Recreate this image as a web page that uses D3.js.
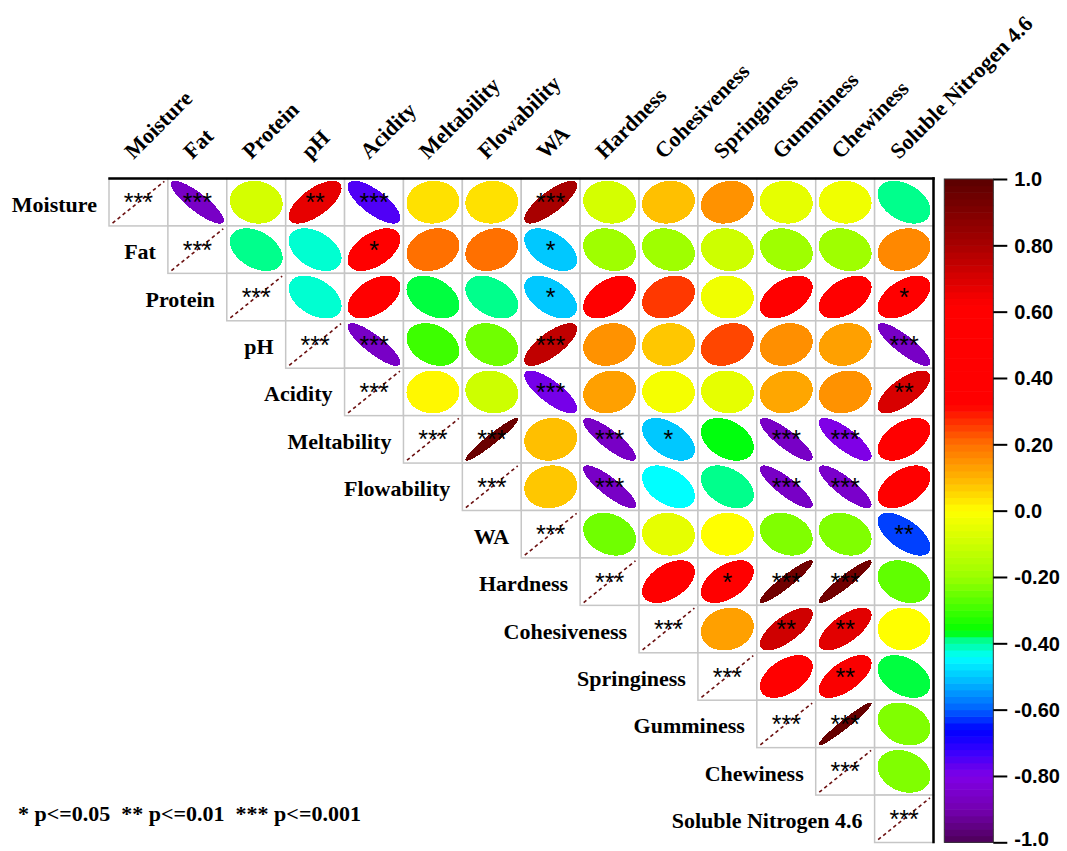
<!DOCTYPE html>
<html>
<head>
<meta charset="utf-8">
<script src="https://cdn.jsdelivr.net/npm/d3@7"></script>
<style>
  html, body { margin: 0; padding: 0; background: #fff; }
  svg { display: block; }
</style>
</head>
<body>
<svg id="chart" width="1067" height="851"></svg>
<script>
// Variables, in matrix order
const variables = ["Moisture", "Fat", "Protein", "pH", "Acidity", "Meltability", "Flowability",
  "WA", "Hardness", "Cohesiveness", "Springiness", "Gumminess", "Chewiness", "Soluble Nitrogen 4.6"];

// Pearson r, upper triangle: each row starts at its own diagonal
const rMoisture     = [1, -0.86, -0.085, 0.67, -0.75, 0.04, 0.04, 0.8, -0.085, 0.084, 0.15, -0.05, -0.03, -0.39];
const rFat          = [1, -0.39, -0.42, 0.5, 0.2, 0.2, -0.5, -0.19, -0.19, -0.1, -0.19, -0.19, 0.165];
const rProtein      = [1, -0.42, 0.48, -0.375, -0.39, -0.5, 0.47, 0.26, -0.03, 0.47, 0.47, 0.5];
const rPH           = [1, -0.86, -0.3, -0.245, 0.75, 0.15, 0.075, 0.245, 0.155, 0.13, -0.86];
const rAcidity      = [1, 0.01, -0.1, -0.79, 0.13, -0.02, -0.05, 0.12, 0.15, 0.7];
const rMeltability  = [1, 0.96, 0.085, -0.86, -0.5, -0.367, -0.86, -0.8, 0.47];
const rFlowability  = [1, 0.075, -0.86, -0.44, -0.39, -0.86, -0.85, 0.47];
const rWA           = [1, -0.245, -0.05, 0.0, -0.228, -0.228, -0.62];
const rHardness     = [1, 0.47, 0.5, 0.94, 0.94, -0.262];
const rCohesiveness = [1, 0.13, 0.72, 0.68, 0.0];
const rSpringiness  = [1, 0.48, 0.63, -0.375];
const rGumminess    = [1, 0.97, -0.228];
const rChewiness    = [1, -0.228];
const rSolubleN     = [1];

// Significance level (number of stars), same layout as above
const sMoisture     = [3, 3, 0, 2, 3, 0, 0, 3, 0, 0, 0, 0, 0, 0];
const sFat          = [3, 0, 0, 1, 0, 0, 1, 0, 0, 0, 0, 0, 0];
const sProtein      = [3, 0, 0, 0, 0, 1, 0, 0, 0, 0, 0, 1];
const sPH           = [3, 3, 0, 0, 3, 0, 0, 0, 0, 0, 3];
const sAcidity      = [3, 0, 0, 3, 0, 0, 0, 0, 0, 2];
const sMeltability  = [3, 3, 0, 3, 1, 0, 3, 3, 0];
const sFlowability  = [3, 0, 3, 0, 0, 3, 3, 0];
const sWA           = [3, 0, 0, 0, 0, 0, 2];
const sHardness     = [3, 0, 1, 3, 3, 0];
const sCohesiveness = [3, 0, 2, 2, 0];
const sSpringiness  = [3, 0, 2, 0];
const sGumminess    = [3, 3, 0];
const sChewiness    = [3, 0];
const sSolubleN     = [3];

// Colour legend ticks
const legendTicks  = [-1, -0.8, -0.6, -0.4, -0.2, 0, 0.2, 0.4, 0.6, 0.8, 1];
const legendLabels = ["-1.0", "-0.80", "-0.60", "-0.40", "-0.20", "0.0", "0.20", "0.40", "0.60", "0.80", "1.0"];
const sigNote = "* p<=0.05  ** p<=0.01  *** p<=0.001";

const rRows = [rMoisture, rFat, rProtein, rPH, rAcidity, rMeltability, rFlowability, rWA,
  rHardness, rCohesiveness, rSpringiness, rGumminess, rChewiness, rSolubleN];
const sRows = [sMoisture, sFat, sProtein, sPH, sAcidity, sMeltability, sFlowability, sWA,
  sHardness, sCohesiveness, sSpringiness, sGumminess, sChewiness, sSolubleN];

// Flatten to cells
const cells = [];
rRows.forEach((row, i) => {
  row.forEach((r, k) => {
    const j = i + k;
    cells.push({ row: variables[i], col: variables[j], r: r, stars: sRows[i][k], diag: i === j });
  });
});

// Rainbow-style diverging palette
const palStops = [
  [-1.0, "#4d0057"], [-0.9, "#7400b0"], [-0.8, "#7f00e6"], [-0.72, "#3300ff"],
  [-0.66, "#0000ff"], [-0.6, "#0060ff"], [-0.5, "#00c8ff"], [-0.44, "#00ffff"],
  [-0.385, "#00ff80"], [-0.365, "#00ff00"], [-0.2, "#9aff00"], [0, "#ffff00"],
  [0.1, "#ffb400"], [0.2, "#ff7000"], [0.32, "#ff0000"], [0.62, "#ff0000"],
  [0.8, "#a80000"], [1.0, "#5a0000"]
];
const color = d3.scaleLinear()
  .domain(palStops.map(d => d[0]))
  .range(palStops.map(d => d[1]))
  .interpolate(d3.interpolateRgb)
  .clamp(true);

const svg = d3.select("#chart");

const x = d3.scaleBand().domain(variables).range([109, 933.5]);
const y = d3.scaleBand().domain(variables).range([178.5, 842.5]);
const bw = x.bandwidth(), bh = y.bandwidth();
const S = 0.88; // ellipse size relative to cell

// Cell grid
svg.append("g").selectAll("rect").data(cells).join("rect")
  .attr("x", d => x(d.col))
  .attr("y", d => y(d.row))
  .attr("width", bw)
  .attr("height", bh)
  .attr("fill", "#fff")
  .attr("stroke", "#c6c6c6")
  .attr("stroke-width", 1.5);

// Ellipse outline for correlation r
function ellipsePts(r, cx, cy) {
  const a = Math.acos(r);
  return d3.range(99).map(k => {
    const t = 2 * Math.PI * k / 98;
    return [cx + S * bw * Math.cos(t + a / 2) / 2, cy - S * bh * Math.cos(t - a / 2) / 2];
  });
}
const line = d3.line().curve(d3.curveLinearClosed);

svg.append("g").selectAll("path").data(cells.filter(d => !d.diag)).join("path")
  .attr("d", d => line(ellipsePts(d.r, x(d.col) + bw / 2, y(d.row) + bh / 2)))
  .attr("fill", d => color(d.r))
  .attr("stroke", d => color(d.r))
  .attr("stroke-width", 1)
  .attr("shape-rendering", "crispEdges");

// Diagonal (r = 1) drawn as dashed line
svg.append("g").selectAll("line").data(cells.filter(d => d.diag)).join("line")
  .attr("x1", d => x(d.col) + bw / 2 - S * bw / 2)
  .attr("y1", d => y(d.row) + bh / 2 + S * bh / 2)
  .attr("x2", d => x(d.col) + bw / 2 + S * bw / 2)
  .attr("y2", d => y(d.row) + bh / 2 - S * bh / 2)
  .attr("stroke", "#6b1010")
  .attr("stroke-width", 1.6)
  .attr("stroke-dasharray", "3.5,3");

// Significance stars
svg.append("g").selectAll("text").data(cells.filter(d => d.stars > 0)).join("text")
  .attr("x", d => x(d.col) + bw / 2)
  .attr("y", d => y(d.row) + bh / 2 + 9)
  .attr("text-anchor", "middle")
  .attr("font-family", "'Liberation Sans', Arial, sans-serif")
  .attr("font-size", 25)
  .attr("fill", "#000")
  .text(d => "*".repeat(d.stars));

// Frame: top and right borders
svg.append("line")
  .attr("x1", 108.3).attr("x2", 934.7)
  .attr("y1", 178.5).attr("y2", 178.5)
  .attr("stroke", "#000").attr("stroke-width", 2.5);
svg.append("line")
  .attr("x1", 933.5).attr("x2", 933.5)
  .attr("y1", 177.3).attr("y2", 843.3)
  .attr("stroke", "#000").attr("stroke-width", 2.5);

const serif = "'Liberation Serif', 'Times New Roman', serif";

// Row labels
svg.append("g").selectAll("text").data(variables).join("text")
  .attr("x", d => x(d) - 12)
  .attr("y", d => y(d) + bh / 2 + 9.5)
  .attr("text-anchor", "end")
  .attr("font-family", serif)
  .attr("font-weight", "bold")
  .attr("font-size", 22)
  .attr("fill", "#000")
  .text(d => d);

// Column labels, rotated
svg.append("g").selectAll("text").data(variables).join("text")
  .attr("transform", d => `translate(${x(d) + bw / 2 - 5},160) rotate(-45)`)
  .attr("text-anchor", "start")
  .attr("font-family", serif)
  .attr("font-weight", "bold")
  .attr("font-size", 22)
  .attr("fill", "#000")
  .text(d => d);

// Colour legend
const yc = d3.scaleLinear().domain([-1, 1]).range([842.3, 179]);
const nBands = 100;
const bands = d3.range(nBands).map(k => -1 + 2 * (k + 0.5) / nBands);
const bandH = (yc(-1) - yc(1)) / nBands;
const lg = svg.append("g");
lg.selectAll("rect").data(bands).join("rect")
  .attr("x", 944.3)
  .attr("y", d => yc(d) - bandH / 2)
  .attr("width", 49)
  .attr("height", bandH + 0.6)
  .attr("fill", d => color(d));
lg.append("rect")
  .attr("x", 944.3).attr("y", yc(1))
  .attr("width", 49).attr("height", yc(-1) - yc(1))
  .attr("fill", "none").attr("stroke", "#333").attr("stroke-width", 1);

const axis = d3.axisRight(yc)
  .tickValues(legendTicks)
  .tickSize(14)
  .tickPadding(7)
  .tickFormat((d, i) => legendLabels[i]);
const ag = svg.append("g").attr("transform", "translate(993.3,0)").call(axis);
ag.select(".domain").remove();
ag.selectAll(".tick line").attr("stroke", "#000").attr("stroke-width", 2);
ag.selectAll(".tick text")
  .attr("font-family", "'Liberation Sans', Arial, sans-serif")
  .attr("font-weight", "bold")
  .attr("font-size", 20)
  .attr("dy", d => d === -1 ? "0.18em" : "0.34em") // keep the bottom label inside the page
  .attr("fill", "#000");

// Significance key
svg.append("text")
  .attr("x", 18)
  .attr("y", 821)
  .attr("font-family", serif)
  .attr("font-weight", "bold")
  .attr("font-size", 22)
  .attr("fill", "#000")
  .style("white-space", "pre")
  .text(sigNote);
</script>
</body>
</html>
